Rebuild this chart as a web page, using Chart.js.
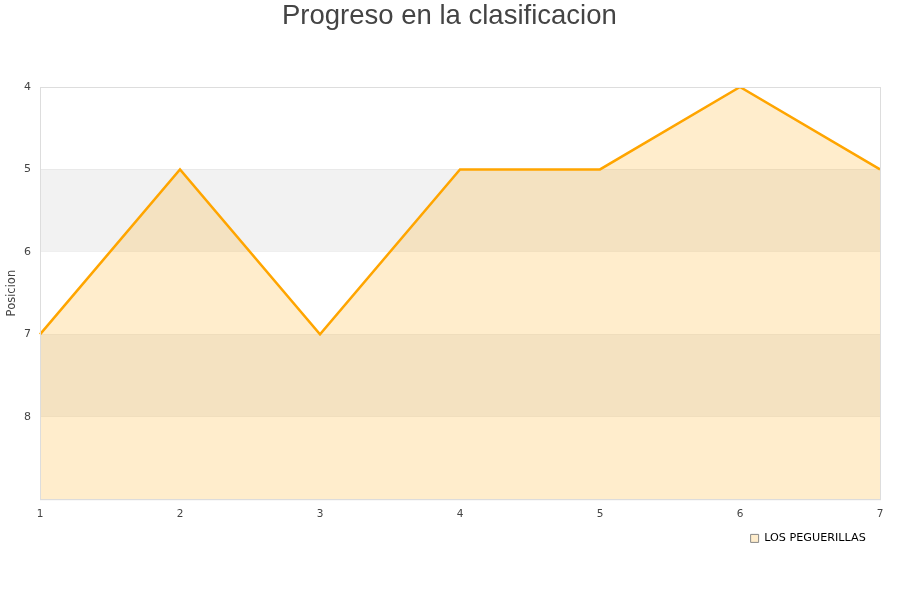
<!DOCTYPE html>
<html>
<head>
<meta charset="utf-8">
<script src="https://cdn.jsdelivr.net/npm/chart.js@4.4.0/dist/chart.umd.min.js"></script>
<style>
  body { margin: 0; background: #fff; }
</style>
</head>
<body>
<canvas id="progreso" width="900" height="600"></canvas>
<script>
const jornadas = ['1', '2', '3', '4', '5', '6', '7']
const posiciones = [7, 5, 7, 5, 5, 4, 5]
const equipo = 'LOS PEGUERILLAS'
const bandas = [[5, 6], [7, 8]]

// bandas grises alternas + marco del area
const fondo = {
    id: 'fondo',
    beforeDatasetsDraw(chart) {
        const { ctx, chartArea, scales } = chart
        ctx.save()
        ctx.fillStyle = '#f2f2f2'
        bandas.forEach(b => {
            const y1 = scales.y.getPixelForValue(b[0])
            const y2 = scales.y.getPixelForValue(b[1])
            ctx.fillRect(chartArea.left, y1, chartArea.right - chartArea.left, y2 - y1)
        })
        ctx.restore()
    },
    afterDraw(chart) {
        const { ctx, chartArea } = chart
        ctx.save()
        ctx.strokeStyle = '#dddddd'
        ctx.lineWidth = 1
        ctx.strokeRect(chartArea.left + 0.5, chartArea.top + 0.5, chartArea.right - chartArea.left, chartArea.bottom - chartArea.top)
        ctx.restore()
    }
}

const ctx = document.querySelector('#progreso')
const chart = new Chart(ctx, {
    type: 'line',
    data: {
        labels: jornadas,
        datasets: [{
            label: equipo,
            data: posiciones,
            borderColor: '#ffa500',
            backgroundColor: 'rgba(255, 165, 0, 0.2)',
            borderWidth: 2.5,
            pointRadius: 0,
            tension: 0,
            fill: { value: 9 }
        }]
    },
    plugins: [fondo],
    options: {
        responsive: false,
        animation: false,
        layout: { padding: { left: 5, right: 20, top: 0, bottom: 46 } },
        plugins: {
            title: {
                display: true,
                text: '\u2002Progreso en la clasificacion',
                color: '#444',
                font: { family: 'Liberation Sans', size: 27.5, weight: 'normal' },
                padding: { top: 0, bottom: 54 }
            },
            legend: {
                position: 'bottom',
                align: 'end',
                labels: {
                    boxWidth: 8,
                    boxHeight: 8,
                    padding: 3,
                    color: '#000',
                    font: { family: 'DejaVu Sans', size: 11.2 },
                    generateLabels: (c) => [{
                        text: equipo + '\u2002\u2002',
                        fillStyle: '#ffedcc',
                        strokeStyle: '#888',
                        lineWidth: 1,
                        datasetIndex: 0
                    }]
                }
            },
            tooltip: { enabled: false }
        },
        scales: {
            x: {
                grid: { display: false, drawTicks: false },
                border: { display: false },
                ticks: { color: '#444', font: { family: 'DejaVu Sans', size: 10.5 }, maxRotation: 0, padding: 9 }
            },
            y: {
                reverse: true,
                min: 4,
                max: 9,
                afterFit: (s) => { s.width = 35 },
                grid: { color: '#dddddd', drawTicks: false },
                border: { display: false },
                title: { display: true, text: 'Posicion', color: '#444', font: { family: 'DejaVu Sans', size: 11.5 }, padding: 0 },
                ticks: {
                    stepSize: 1,
                    color: '#444',
                    padding: 9,
                    font: { family: 'DejaVu Sans', size: 11 },
                    callback: (v) => v === 9 ? '' : v
                }
            }
        }
    }
})
</script>
</body>
</html>
